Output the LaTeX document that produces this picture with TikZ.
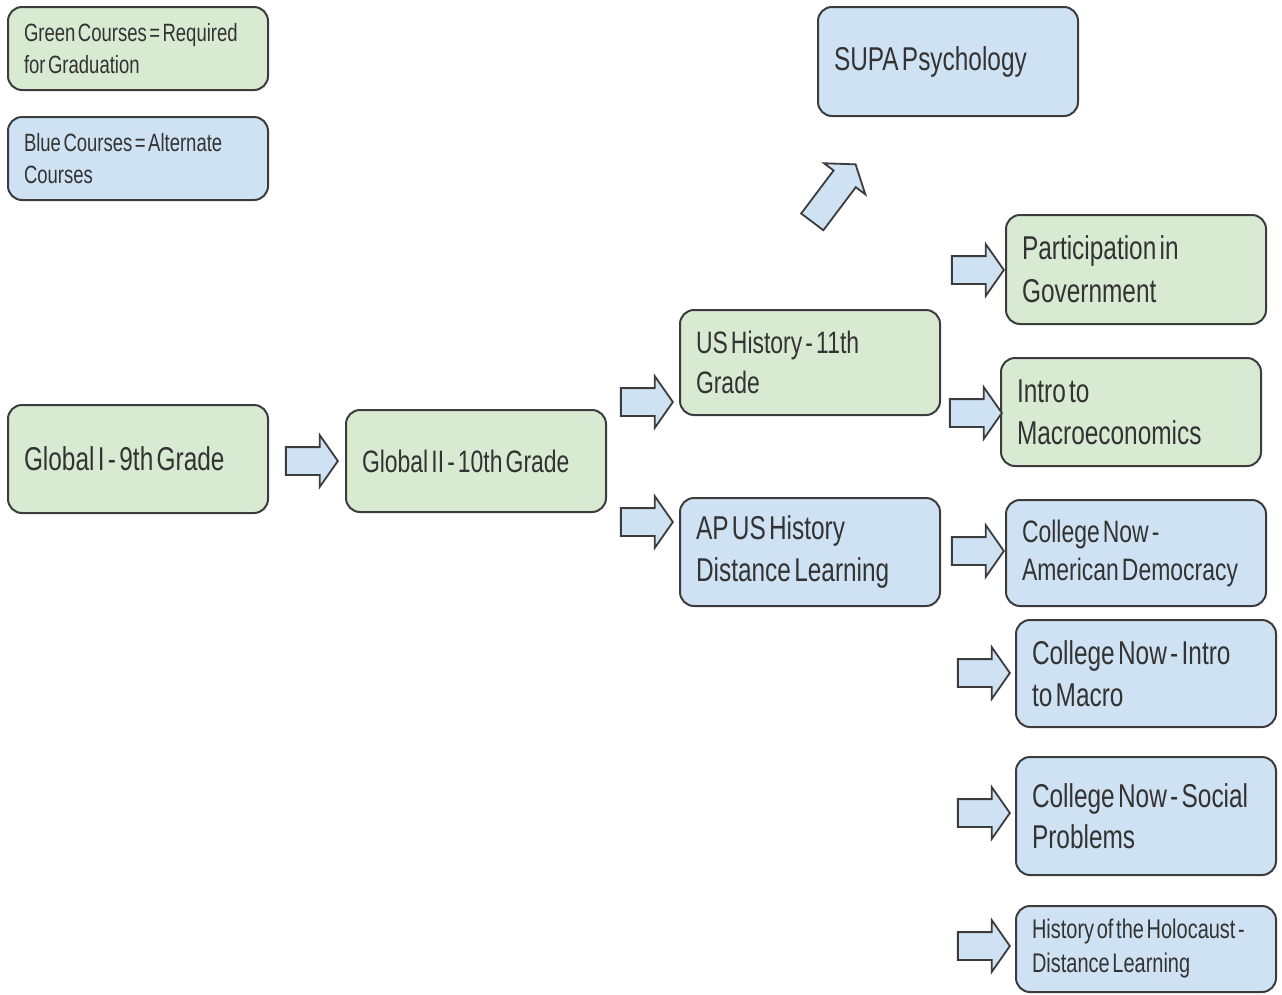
\documentclass[tikz,border=0pt]{standalone}
\usepackage{fontspec}
\setmainfont{Liberation Sans}[FakeStretch=0.74]
\usetikzlibrary{shapes.arrows}
\definecolor{boxgreen}{HTML}{D9EAD3}
\definecolor{boxblue}{HTML}{CFE2F3}
\definecolor{edgegray}{HTML}{3C3C3C}
\definecolor{txtgray}{HTML}{333333}
\DeclareRobustCommand\coursefont[2]{\fontsize{#1}{#2}\selectfont}

\begin{document}
\begin{tikzpicture}[x=1pt, y=-1pt,
	course/.style={draw=edgegray, line width=2pt, rounded corners=14pt, text=txtgray,
		minimum width=260pt, inner xsep=16pt, text width=228pt, align=left,
		execute at begin node={\spaceskip=0.1em plus 0.02em\relax}},
	greenbox/.style={course, fill=boxgreen},
	bluebox/.style={course, fill=boxblue},
	fsz/.style 2 args={font=\coursefont{#1}{#2}},
	blockarrow/.style={single arrow, draw=edgegray, fill=boxblue, line width=1.8pt,
		inner xsep=0pt, inner ysep=13pt, minimum height=52pt,
		single arrow head extend=12pt, single arrow tip angle=110}]
	\useasboundingbox (0,0) rectangle (1282,994);

	\node[greenbox, fsz={25}{32}, minimum height=83pt] (legG) at (138,48.5) {\mbox{Green Courses = Required}\\for Graduation};
	\node[bluebox, fsz={25}{32}, minimum height=83pt] (legB) at (138,158.5) {Blue Courses = Alternate\\Courses};
	\node[bluebox, fsz={33}{42}, minimum height=109pt] (supa) at (948,61.5) {SUPA Psychology};

	\node[greenbox, fsz={33}{42}, minimum height=108pt] (glob1) at (138,459) {\mbox{Global I - 9th Grade}};
	\node[greenbox, fsz={31}{40}, minimum height=102pt] (glob2) at (476,461) {\mbox{Global II - 10th Grade}};
	\node[greenbox, fsz={31}{40}, minimum height=105pt] (ush) at (810,362.5) {US History - 11th\\Grade};
	\node[bluebox, fsz={33}{42}, minimum height=108pt] (apush) at (810,552) {AP US History\\Distance Learning};

	\node[greenbox, fsz={33}{43}, minimum height=109pt] (pig) at (1136,269.5) {Participation in\\Government};
	\node[greenbox, fsz={33}{42}, minimum height=108pt] (macro) at (1131,412) {Intro to\\Macroeconomics};
	\node[bluebox, fsz={31}{38}, minimum height=106pt] (cnad) at (1136,553) {College Now -\\American Democracy};
	\node[bluebox, fsz={33}{42}, minimum height=107pt] (cnmac) at (1146,673.5) {\mbox{College Now - Intro}\\to Macro};
	\node[bluebox, fsz={33}{41}, minimum height=118pt] (cnsoc) at (1146,816) {\mbox{College Now - Social}\\Problems};
	\node[bluebox, fsz={27}{34}, minimum height=86pt] (holo) at (1146,949) {\mbox{History of the Holocaust -}\\Distance Learning};

	\node[blockarrow] (ar1) at (307,461) {};
	\node[blockarrow] (ar2) at (642,402) {};
	\node[blockarrow] (ar3) at (642,522) {};
	\node[blockarrow] (ar4) at (973,270) {};
	\node[blockarrow] (ar5) at (971,413) {};
	\node[blockarrow] (ar6) at (973,551) {};
	\node[blockarrow] (ar7) at (979,673) {};
	\node[blockarrow] (ar8) at (979,813) {};
	\node[blockarrow] (ar9) at (979,946) {};
	\node[blockarrow, minimum height=72pt, rotate=53] (ar10) at (831,197) {};
\end{tikzpicture}
\end{document}
